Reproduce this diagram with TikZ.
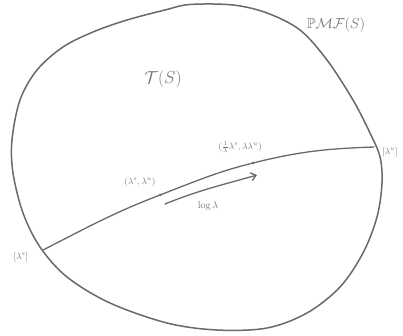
\documentclass[tikz,border=0pt]{standalone}
\usepackage{amssymb}
\usetikzlibrary{arrows.meta}
\definecolor{pencil}{RGB}{105,105,105}
\definecolor{pencilText}{RGB}{115,115,115}
\tikzset{
  outline/.style={draw=pencil, line width=1.5pt, line join=round},
  geodesic/.style={draw=pencil, line width=1.3pt, line cap=round},
  flowarrow/.style={draw=pencil, line width=1.3pt, line cap=round, -{Straight Barb[length=5pt,width=8pt,line width=1.3pt]}},
  marker/.style={circle, fill=pencil, inner sep=0pt, minimum size=3pt},
  lbl/.style={text=pencilText, inner sep=1pt},
}
\begin{document}
\begin{tikzpicture}[x=1pt,y=1pt]
  \useasboundingbox (0,0) rectangle (403,335);
  % boundary of the Thurston compactification
  \draw[outline] plot[smooth cycle, tension=0.55] coordinates {
    (190,330.5) (233,330) (267,322) (300,305) (327,275) (353,235)
    (370,202) (380,178) (382,152) (377,118) (363,82) (340,48)
    (307,22) (267,7) (217,5) (167,12) (110,32) (67,58) (40,88)
    (23,122) (13,162) (12,195) (20,235) (37,265) (63,288)
    (93,303) (127,315) (165,325)};
  % endpoints and marked points on the Teichmueller geodesic
  \coordinate (ls) at (43,85);
  \coordinate (lu) at (374,188);
  \node[marker] (p1) at (160,140) {};
  \node[marker] (p2) at (253,172) {};
  \draw[geodesic] (ls) to[out=27,in=201] (p1.center)
                       to[out=21,in=194] (p2.center)
                       to[out=14,in=182] (lu);
  % direction of the flow
  \coordinate (a0) at (165,131);
  \coordinate (a1) at (257,160);
  \draw[flowarrow] (a0) to[out=22,in=196] (a1);
  % labels
  \node[lbl, font=\LARGE] (teich) at (163,256) {$\mathcal{T}(S)$};
  \node[lbl, font=\Large] (pmf) at (336,310) {$\mathbb{P}\mathcal{MF}(S)$};
  \node[lbl, font=\small] (lblp1) at (140,153) {$(\lambda^s,\lambda^u)$};
  \node[lbl, font=\small] (lblp2) at (240,188) {$(\frac{1}{\lambda}\lambda^s,\lambda\lambda^u)$};
  \node[lbl] (lbllog) at (208,129) {$\log\lambda$};
  \node[lbl, font=\small, anchor=west] (lblu) at (381,183) {$[\lambda^u]$};
  \node[lbl, font=\small] (lbls) at (21,78) {$[\lambda^s]$};
\end{tikzpicture}
\end{document}
